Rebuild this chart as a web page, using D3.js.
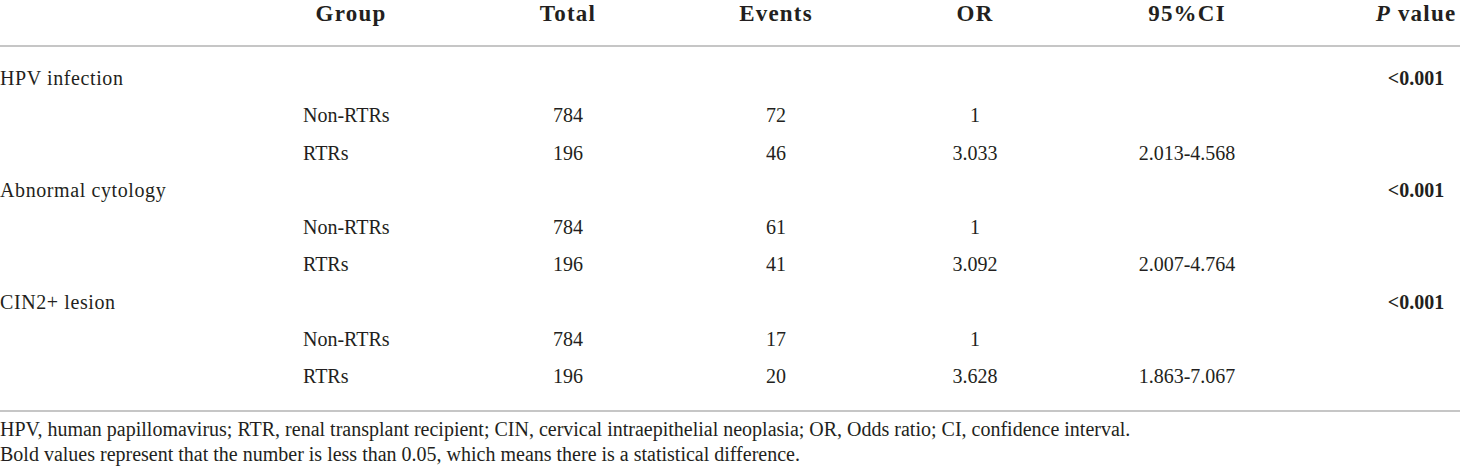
<html>

<head>
  <script src="https://d3js.org/d3.v7.min.js"></script>
  <style>
    body { margin: 0; background: #fff; }
    text { font-family: "Liberation Serif", "Times New Roman", serif; fill: #231f20; }
    .head { font-weight: bold; font-size: 23px; letter-spacing: 1.2px; }
    .cell { font-size: 20px; }
    .outcome { letter-spacing: 0.6px; }
    .note { font-size: 20px; }
    .rule { stroke: #c6c6c6; stroke-width: 2; }
  </style>
</head>

<body>
  <svg width="1460" height="470" id="table"></svg>
  <script>
    const headers = ["Group", "Total", "Events", "OR", "95%CI", "P value"];
    const outcomes = ["HPV infection", "Abnormal cytology", "CIN2+ lesion"];
    const groups = ["Non-RTRs", "RTRs"];
    const totals = [[784, 196], [784, 196], [784, 196]];
    const events = [[72, 46], [61, 41], [17, 20]];
    const oddsRatios = [["1", "3.033"], ["1", "3.092"], ["1", "3.628"]];
    const intervals = [["", "2.013-4.568"], ["", "2.007-4.764"], ["", "1.863-7.067"]];
    const pValues = ["<0.001", "<0.001", "<0.001"];
    const notes = [
      "HPV, human papillomavirus; RTR, renal transplant recipient; CIN, cervical intraepithelial neoplasia; OR, Odds ratio; CI, confidence interval.",
      "Bold values represent that the number is less than 0.05, which means there is a statistical difference."
    ];

    const svg = d3.select("svg#table");
    const width = +svg.attr("width");

    // column centres
    const colScale = d3.scaleOrdinal()
      .domain(headers)
      .range([351, 568, 776, 975, 1187, 1416]);
    const groupLeft = 303;

    // one row per outcome + one per group under it
    const rows = [];
    outcomes.forEach((o, i) => {
      rows.push({ type: "outcome", label: o, p: pValues[i] });
      groups.forEach((g, j) => {
        rows.push({
          type: "group", label: g, total: totals[i][j], events: events[i][j],
          or: oddsRatios[i][j], ci: intervals[i][j]
        });
      });
    });

    const rowScale = d3.scalePoint()
      .domain(d3.range(rows.length))
      .range([85, 383]);

    // header
    const head = svg.append("g").attr("class", "head");
    head.selectAll("text").data(headers.slice(0, 5))
      .join("text")
      .attr("x", d => colScale(d))
      .attr("y", 21)
      .attr("text-anchor", "middle")
      .text(d => d);
    const pHead = head.append("text")
      .attr("x", colScale("P value"))
      .attr("y", 21)
      .attr("text-anchor", "middle");
    pHead.append("tspan").style("font-style", "italic").text("P");
    pHead.append("tspan").text(" value");

    svg.append("line").attr("class", "rule")
      .attr("x1", 0).attr("x2", width).attr("y1", 46).attr("y2", 46);

    const body = svg.append("g").attr("class", "cell");
    const rowG = body.selectAll("g.row").data(rows)
      .join("g").attr("class", "row")
      .attr("transform", (d, i) => `translate(0,${rowScale(i)})`);

    rowG.filter(d => d.type === "outcome").each(function (d) {
      const g = d3.select(this);
      g.append("text").attr("class", "outcome").attr("x", 0).text(d.label);
      g.append("text").attr("x", colScale("P value"))
        .attr("text-anchor", "middle")
        .style("font-weight", "bold")
        .text(d.p);
    });

    rowG.filter(d => d.type === "group").each(function (d) {
      const g = d3.select(this);
      g.append("text").attr("x", groupLeft).text(d.label);
      [["Total", d.total], ["Events", d.events], ["OR", d.or], ["95%CI", d.ci]]
        .forEach(([col, v]) => {
          g.append("text")
            .attr("x", colScale(col))
            .attr("text-anchor", "middle")
            .text(v);
        });
    });

    svg.append("line").attr("class", "rule")
      .attr("x1", 0).attr("x2", width).attr("y1", 411).attr("y2", 411);

    svg.append("g").attr("class", "note")
      .selectAll("text").data(notes)
      .join("text")
      .attr("x", 0)
      .attr("y", (d, i) => 436 + i * 25)
      .text(d => d);
  </script>
</body>

</html>
